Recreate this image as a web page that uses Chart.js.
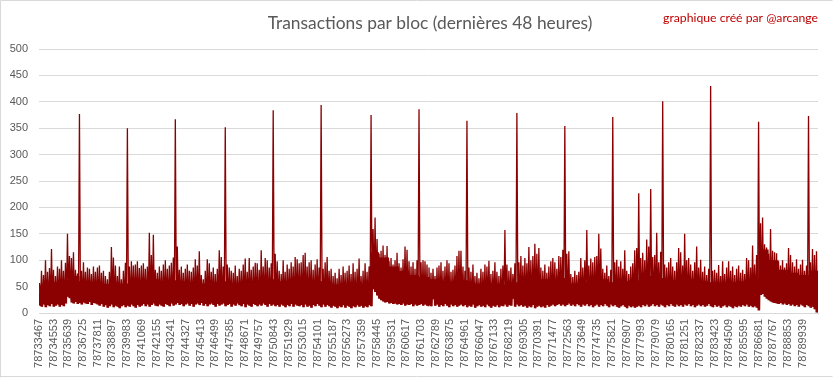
<!DOCTYPE html>
<html><head><meta charset="utf-8">
<script src="https://cdn.jsdelivr.net/npm/chart.js@4.4.0/dist/chart.umd.min.js"></script>
<style>
html,body{margin:0;padding:0;background:#fff;overflow:hidden;}
#wrap{position:relative;width:833px;height:379px;}
canvas{display:block;}
</style></head><body>
<div id="wrap"><canvas id="c" width="833" height="379"></canvas></div>
<script>
const TITLE = "Transactions par bloc (dernières 48 heures)";
const CREDIT = "graphique créé par @arcange";
const FIRST_BLOCK = 78733467;
const TOTAL_BLOCKS = 57600;
const TICK_BLOCKS = [78733467,78734553,78735639,78736725,78737811,78738897,78739983,78741069,78742155,78743241,78744327,78745413,78746499,78747585,78748671,78749757,78750843,78751929,78753015,78754101,78755187,78756273,78757359,78758445,78759531,78760617,78761703,78762789,78763875,78764961,78766047,78767133,78768219,78769305,78770391,78771477,78772563,78773649,78774735,78775821,78776907,78777993,78779079,78780165,78781251,78782337,78783423,78784509,78785595,78786681,78787767,78788853,78789939];
const Y_TICKS = [0,50,100,150,200,250,300,350,400,450,500];
// highest transactions count per slice of blocks
const binHigh = [
57,80,72,100,78,85,121,82,70,88,
84,100,80,95,150,108,104,115,82,75,
377,80,96,78,86,84,74,88,78,86,
90,76,80,70,64,78,125,105,90,70,
88,64,80,95,350,88,98,90,92,98,
85,90,94,84,88,152,110,148,82,76,
88,80,92,100,84,90,95,105,367,126,
82,88,76,84,92,80,78,86,102,90,
117,72,64,80,102,94,78,86,74,84,
119,106,88,352,92,86,80,76,90,70,
84,80,92,103,78,104,82,88,95,94,
82,119,88,104,100,86,94,384,112,98,
80,74,100,78,92,84,96,88,106,102,
94,96,110,114,88,96,100,82,92,102,
86,394,84,96,106,80,84,70,76,66,
84,72,88,76,80,90,74,94,78,84,
103,70,80,94,78,88,375,159,181,140,
112,118,128,110,127,98,104,92,100,114,
94,86,102,126,120,98,88,96,84,100,
386,96,100,98,92,86,76,84,70,86,
90,96,80,88,100,94,78,82,90,108,
118,118,88,80,364,86,78,92,70,76,
66,84,78,92,88,99,74,80,96,78,
70,84,90,157,92,80,86,74,94,379,
96,108,90,104,94,125,100,108,131,112,
123,86,80,92,76,88,98,104,96,84,
108,106,120,354,112,117,74,68,80,72,
78,104,86,100,157,90,103,96,106,108,
150,122,84,76,90,70,82,371,96,101,
88,98,84,119,80,74,88,94,119,123,
227,104,114,100,139,126,235,106,110,152,
96,116,401,92,86,96,104,88,80,96,
123,115,90,150,100,104,92,80,96,126,
86,101,78,88,72,84,430,80,82,76,
91,70,98,74,86,98,80,88,72,84,
90,76,82,74,104,100,86,128,92,110,
362,170,181,130,124,112,159,118,115,113,
98,90,100,86,94,123,110,96,88,102,
84,92,101,80,90,373,96,121,110,117];
// lowest transactions count per slice of blocks
const binLow = [
14,12,16,11,15,13,17,12,14,16,
12,15,13,18,31,28,20,18,21,17,
19,16,20,18,17,21,15,19,18,16,
14,17,12,15,10,13,16,11,14,12,
9,13,15,11,14,12,16,13,10,15,
12,14,17,13,16,12,15,18,14,13,
16,14,12,17,15,13,18,14,16,19,
15,17,13,16,18,14,17,12,16,18,
15,19,14,17,13,16,18,15,12,17,
14,16,18,13,15,17,12,16,14,18,
15,13,17,11,16,14,12,17,15,13,
16,14,18,15,12,17,14,16,13,15,
12,16,14,11,15,13,17,12,16,14,
13,15,11,16,12,14,10,15,13,17,
14,11,16,12,15,13,10,14,12,9,
13,11,15,10,14,12,9,13,11,15,
12,14,10,13,11,15,13,45,40,33,
27,24,22,20,21,18,19,17,18,16,
17,15,18,14,16,15,17,13,16,14,
15,17,14,16,14,15,13,26,14,16,
12,15,13,17,14,11,16,13,15,12,
14,16,13,15,11,14,12,16,10,13,
15,12,14,11,16,13,10,14,12,15,
11,14,13,16,12,15,14,27,12,16,
13,15,12,14,10,13,11,15,9,12,
14,11,13,10,15,12,14,16,13,15,
17,14,16,13,15,18,14,16,13,17,
15,12,16,14,17,13,15,11,14,16,
12,15,13,17,14,11,16,13,15,12,
10,13,15,12,9,14,11,13,10,12,
14,11,15,13,16,12,14,17,13,15,
12,16,14,11,15,13,17,14,12,16,
13,15,12,16,14,17,13,15,11,14,
16,13,15,12,14,17,13,11,15,12,
14,10,13,15,11,14,12,9,13,11,
14,12,15,13,16,12,14,11,13,10,
5,34,36,31,27,24,22,20,19,18,
17,19,16,18,15,17,14,16,13,15,
12,16,14,11,15,13,10,12,7,1];
// level of the dense (typical) band, one value per 5 slices
const bandTop = [
52,58,62,70,60,58,55,58,56,62,
62,64,60,62,60,58,56,58,60,56,
58,60,62,64,60,64,66,62,60,54,
52,55,56,115,105,88,80,72,68,64,
60,58,62,56,54,56,54,58,64,68,
64,62,66,56,58,62,64,58,60,62,
68,70,66,62,66,64,60,58,56,58,
60,64,120,100,82,76,72,80];

const BIN = TOTAL_BLOCKS / binHigh.length;
const GROUP = binHigh.length / bandTop.length;
const bandPts = [];
const spikePts = [];
binHigh.forEach((h, k) => {
  const mid = Math.min(bandTop[Math.floor(k / GROUP)], h);
  bandPts.push({x: FIRST_BLOCK + (k + 0.25) * BIN, y: binLow[k]});
  bandPts.push({x: FIRST_BLOCK + (k + 0.75) * BIN, y: mid});
  spikePts.push({x: FIRST_BLOCK + (k + 0.25) * BIN, y: h});
  spikePts.push({x: FIRST_BLOCK + (k + 0.75) * BIN, y: binLow[k]});
});

const decor = {
  id: 'decor',
  beforeDraw(chart) {
    const ctx = chart.ctx;
    ctx.save();
    ctx.fillStyle = '#fff';
    ctx.fillRect(0, 0, chart.width, chart.height);
    ctx.strokeStyle = '#D9D9D9';
    ctx.lineWidth = 1;
    ctx.beginPath();
    ctx.moveTo(0.5, 377.5); ctx.lineTo(0.5, 0.5); ctx.lineTo(832.5, 0.5);
    ctx.moveTo(0.5, 376.5); ctx.lineTo(832.5, 376.5);
    ctx.stroke();
    ctx.restore();
  },
  afterDraw(chart) {
    const ctx = chart.ctx;
    ctx.save();
    ctx.textBaseline = 'alphabetic';
    let size = 19;
    ctx.font = size + 'px Lato';
    size = size * 325 / ctx.measureText(TITLE).width;
    ctx.font = size.toFixed(2) + 'px Lato';
    ctx.fillStyle = '#595959';
    ctx.textAlign = 'center';
    ctx.fillText(TITLE, 430, 29);
    let s2 = 13;
    ctx.font = s2 + 'px Lato';
    s2 = s2 * 155 / ctx.measureText(CREDIT).width;
    ctx.font = s2.toFixed(2) + 'px Lato';
    ctx.fillStyle = '#C00000';
    ctx.textAlign = 'right';
    ctx.fillText(CREDIT, 818, 22);
    ctx.restore();
  }
};

const lineStyle = { borderColor: '#8B0000', backgroundColor: '#8B0000', pointRadius: 0, tension: 0, fill: false, borderJoinStyle: 'miter' };

new Chart(document.getElementById('c'), {
  type: 'line',
  data: {
    datasets: [
      Object.assign({ label: 'Transactions (bande)', data: bandPts, borderWidth: 2 }, lineStyle),
      Object.assign({ label: 'Transactions', data: spikePts, borderWidth: 1.3 }, lineStyle)
    ]
  },
  options: {
    responsive: false,
    animation: false,
    devicePixelRatio: 1,
    layout: { padding: { top: 49, right: 15, bottom: 0, left: 0 } },
    plugins: { legend: { display: false }, tooltip: { enabled: false }, title: { display: false } },
    scales: {
      x: {
        type: 'linear',
        min: FIRST_BLOCK,
        max: FIRST_BLOCK + TOTAL_BLOCKS,
        afterBuildTicks: (s) => { s.ticks = TICK_BLOCKS.map(v => ({ value: v })); },
        ticks: {
          autoSkip: false, minRotation: 90, maxRotation: 90,
          color: '#595959', font: { family: 'Liberation Sans', size: 11 }, padding: 6,
          callback: (v) => String(v)
        },
        grid: { display: false, drawTicks: false },
        border: { display: true, color: '#D9D9D9' },
        afterFit: (s) => { s.height = 66; }
      },
      y: {
        min: 0, max: 500,
        afterBuildTicks: (s) => { s.ticks = Y_TICKS.map(v => ({ value: v })); },
        ticks: { color: '#595959', font: { family: 'Liberation Sans', size: 11 }, padding: 11 },
        grid: { color: '#D9D9D9', drawTicks: false },
        border: { display: false },
        afterFit: (s) => { s.width = 39; }
      }
    }
  },
  plugins: [decor]
});
</script>
</body></html>
